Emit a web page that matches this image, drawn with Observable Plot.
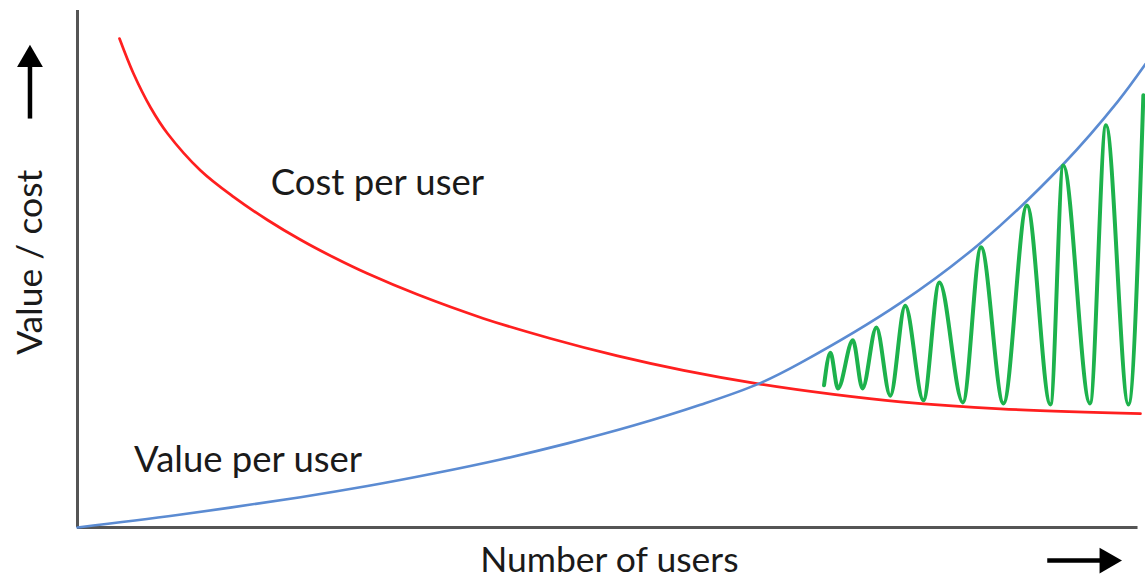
<!DOCTYPE html>
<html>
<head>
<meta charset="utf-8">
<script src="https://cdn.jsdelivr.net/npm/d3@7"></script>
<script src="https://cdn.jsdelivr.net/npm/@observablehq/plot@0.6"></script>
<style>
  html, body { margin: 0; padding: 0; background: #fff; }
  #chart { width: 1145px; height: 580px; }
</style>
</head>
<body>
<div id="chart"></div>
<script>
// Cost per user (decreasing), x = number of users (0-100), y = value/cost (0-100)
const costX = [3.93, 5.24, 6.84, 8.43, 11.52, 14.61, 17.79, 20.88, 23.97, 27.15, 31.84, 38.01, 44.29, 50.56, 56.74, 63.76, 70.79, 77.06, 86.42, 99.53];
const costY = [94.58, 87.81, 81.24, 76.21, 69.05, 63.95, 59.48, 55.65, 52.26, 49.11, 45.05, 40.44, 36.56, 33.19, 30.39, 27.78, 25.74, 24.31, 22.96, 22.01];

// Value per user (increasing)
const valueX = [0, 9.36, 20.88, 27.15, 33.33, 39.61, 45.88, 52.06, 58.33, 63.76, 67.70, 77.06, 84.55, 92.32, 97.38, 100];
const valueY = [0, 2.42, 5.86, 8.01, 10.43, 13.15, 16.27, 19.71, 23.73, 27.78, 31.84, 43.44, 55.05, 70.31, 82.32, 89.63];

// Oscillating green line between the two curves (extremes)
const waveX = [69.9, 70.5, 71.2, 72.6, 73.5, 74.8, 76.1, 77.5, 79.2, 80.7, 82.9, 84.6, 86.7, 88.9, 91.1, 92.3, 94.8, 96.3, 98.4, 99.8];
const waveY = [27.5, 33.8, 26.9, 36.2, 26.9, 38.7, 25.5, 42.9, 24.6, 47.4, 24.2, 54.2, 24.0, 62.3, 23.8, 70.0, 24.0, 77.8, 23.8, 83.6];

// Text labels
const labelText = ["Cost per user", "Value per user"];
const labelX = [18.1, 5.3];
const labelY = [66.5, 13.0];

const axisTitleText = ["Value / cost", "Number of users"];
const axisTitleX = [-4.4, 49.8];
const axisTitleY = [51.3, -6.5];
const axisTitleRotate = [-90, 0];

// Arrows: shafts and heads
const shaftX1 = [-4.45, 90.8];
const shaftX2 = [-4.45, 95.8];
const shaftY1 = [79.1, -6.4];
const shaftY2 = [89.2, -6.4];
const headX = [-4.45, 96.4];
const headY = [90.5, -6.4];
const headRotate = [0, 90];

const cost = costX.map((x, i) => ({x, y: costY[i]}));
const value = valueX.map((x, i) => ({x, y: valueY[i]}));
const wave = waveX.map((x, i) => ({x, y: waveY[i]}));
const labels = labelText.map((t, i) => ({t, x: labelX[i], y: labelY[i]}));
const titles = axisTitleText.map((t, i) => ({t, x: axisTitleX[i], y: axisTitleY[i], r: axisTitleRotate[i]}));
const shafts = shaftX1.map((x1, i) => ({x1, x2: shaftX2[i], y1: shaftY1[i], y2: shaftY2[i]}));
const heads = headX.map((x, i) => ({x, y: headY[i], r: headRotate[i]}));

const font = "Lato, 'Open Sans', sans-serif";

const chart = Plot.plot({
  width: 1145,
  height: 580,
  marginLeft: 77,
  marginRight: 0,
  marginTop: 10,
  marginBottom: 53,
  x: {domain: [0, 100], axis: null},
  y: {domain: [0, 100], axis: null},
  style: {fontFamily: font, background: "#fff"},
  marks: [
    Plot.ruleX([0], {y1: 0, y2: 100, stroke: "#555", strokeWidth: 3}),
    Plot.ruleY([0], {x1: 0, x2: 99.3, stroke: "#555", strokeWidth: 3}),
    Plot.line(cost, {x: "x", y: "y", stroke: "#ff1f1f", strokeWidth: 2.7, curve: "catmull-rom"}),
    Plot.line(value, {x: "x", y: "y", stroke: "#5b8bd2", strokeWidth: 2.6, curve: "catmull-rom"}),
    Plot.line(wave, {x: "x", y: "y", stroke: "#1db24c", strokeWidth: 4, curve: "monotone-x"}),
    Plot.text(labels, {x: "x", y: "y", text: "t", textAnchor: "start", fontSize: 36.5, fill: "#1a1a1a"}),
    Plot.text(titles, {x: "x", y: "y", text: "t", rotate: "r", fontSize: 35.5, fill: "#1a1a1a"}),
    Plot.link(shafts, {x1: "x1", y1: "y1", x2: "x2", y2: "y2", stroke: "#000", strokeWidth: 4.5}),
    Plot.dot(heads, {x: "x", y: "y", rotate: "r", symbol: "triangle", r: 9.6, fill: "#000", stroke: "none"})
  ]
});
document.getElementById("chart").appendChild(chart);
</script>
</body>
</html>
